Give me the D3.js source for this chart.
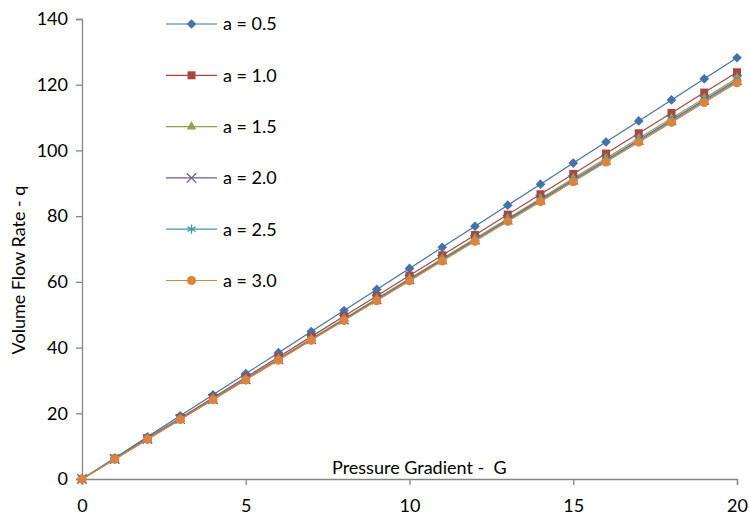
<!DOCTYPE html>
<html>
<head>
<meta charset="utf-8">
<script src="https://cdn.jsdelivr.net/npm/d3@7"></script>
<style>
  body { margin: 0; background: #fff; }
  text { font-family: Lato, "Open Sans", sans-serif; fill: #000; }
</style>
</head>
<body>
<div id="chart"></div>
<script>
const width = 749, height = 515;
const margin = { top: 19, right: 12, bottom: 36, left: 82 };

const gradients = d3.range(0, 21);
const seriesNames = ["a = 0.5", "a = 1.0", "a = 1.5", "a = 2.0", "a = 2.5", "a = 3.0"];
const seriesColors = ["#4572A7", "#AA4643", "#89A54E", "#71588F", "#4198AF", "#DB843D"];
const seriesSymbols = ["diamond", "square", "triangle", "cross", "star", "circle"];

const qA05 = [0, 6.41, 12.82, 19.23, 25.64, 32.05, 38.46, 44.87, 51.28, 57.69, 64.1, 70.51, 76.92, 83.33, 89.74, 96.15, 102.56, 108.97, 115.38, 121.79, 128.2];
const qA10 = [0, 6.19, 12.38, 18.57, 24.76, 30.95, 37.14, 43.33, 49.52, 55.71, 61.9, 68.09, 74.28, 80.47, 86.66, 92.85, 99.04, 105.23, 111.42, 117.61, 123.8];
const qA15 = [0, 6.1, 12.2, 18.3, 24.4, 30.5, 36.6, 42.7, 48.8, 54.9, 61.0, 67.1, 73.2, 79.3, 85.4, 91.5, 97.6, 103.7, 109.8, 115.9, 122.0];
const qA20 = [0, 6.07, 12.14, 18.21, 24.28, 30.35, 36.42, 42.49, 48.56, 54.63, 60.7, 66.77, 72.84, 78.91, 84.98, 91.05, 97.12, 103.19, 109.26, 115.33, 121.4];
const qA25 = [0, 6.05, 12.1, 18.15, 24.2, 30.25, 36.3, 42.35, 48.4, 54.45, 60.5, 66.55, 72.6, 78.65, 84.7, 90.75, 96.8, 102.85, 108.9, 114.95, 121.0];
const qA30 = [0, 6.03, 12.06, 18.09, 24.12, 30.15, 36.18, 42.21, 48.24, 54.27, 60.3, 66.33, 72.36, 78.39, 84.42, 90.45, 96.48, 102.51, 108.54, 114.57, 120.6];
const allSeries = [qA05, qA10, qA15, qA20, qA25, qA30];

const xTicks = [0, 5, 10, 15, 20];
const yTicks = [0, 20, 40, 60, 80, 100, 120, 140];

const xScale = d3.scaleLinear().domain([0, 20]).range([0, 655]);
const yScale = d3.scaleLinear().domain([0, 140]).range([460, 0]);

const svg = d3.select("#chart")
  .append("svg")
  .attr("width", width)
  .attr("height", height);

const innerChart = svg.append("g")
  .attr("transform", `translate(${margin.left}, ${margin.top})`);

// Axes
const axisColor = "#868686";
const fontSize = "18px";

const yAxis = innerChart.append("g")
  .call(d3.axisLeft(yScale).tickValues(yTicks).tickSize(6).tickPadding(8));
yAxis.select(".domain").attr("stroke", axisColor).attr("stroke-width", 1.3);
yAxis.selectAll(".tick line").attr("stroke", axisColor).attr("stroke-width", 1.3);
yAxis.selectAll(".tick text").style("font-size", fontSize).attr("fill", "#000");

const xAxis = innerChart.append("g")
  .attr("transform", `translate(0, ${yScale(0)})`)
  .call(d3.axisBottom(xScale).tickValues(xTicks).tickSize(6).tickPadding(14));
xAxis.select(".domain").attr("stroke", axisColor).attr("stroke-width", 1.3);
xAxis.selectAll(".tick line").attr("stroke", axisColor).attr("stroke-width", 1.3);
xAxis.selectAll(".tick text").style("font-size", fontSize).attr("fill", "#000");

// Symbols
const symbolFor = name => {
  if (name === "diamond") return d3.symbol().type(d3.symbolDiamond2).size(60);
  if (name === "square") return d3.symbol().type(d3.symbolSquare).size(64);
  if (name === "triangle") return d3.symbol().type(d3.symbolTriangle).size(40);
  if (name === "cross") return d3.symbol().type(d3.symbolTimes).size(60);
  if (name === "star") return d3.symbol().type(d3.symbolAsterisk).size(60);
  return d3.symbol().type(d3.symbolCircle).size(64);
};
const isStroked = name => name === "cross" || name === "star";

const line = d3.line()
  .x((d, i) => xScale(gradients[i]))
  .y(d => yScale(d));

allSeries.forEach((values, s) => {
  const g = innerChart.append("g");
  g.append("path")
    .attr("d", line(values))
    .attr("fill", "none")
    .attr("stroke", seriesColors[s])
    .attr("stroke-width", 1.2);
  g.selectAll("path.marker")
    .data(values)
    .join("path")
    .attr("class", "marker")
    .attr("transform", (d, i) => `translate(${xScale(gradients[i])}, ${yScale(d)})`)
    .attr("d", symbolFor(seriesSymbols[s])())
    .attr("fill", isStroked(seriesSymbols[s]) ? "none" : seriesColors[s])
    .attr("stroke", isStroked(seriesSymbols[s]) ? seriesColors[s] : "none")
    .attr("stroke-width", 1.3);
});

// Axis titles
innerChart.append("text")
  .attr("x", 250)
  .attr("y", yScale(0) - 5)
  .style("font-size", fontSize)
  .style("white-space", "pre")
  .text("Pressure Gradient -  G");

svg.append("text")
  .attr("transform", "translate(25, 270) rotate(-90)")
  .attr("text-anchor", "middle")
  .style("font-size", fontSize)
  .text("Volume Flow Rate - q");

// Legend
const legend = svg.append("g")
  .attr("transform", "translate(166, 24)");

seriesNames.forEach((name, s) => {
  const row = legend.append("g")
    .attr("transform", `translate(0, ${s * 51.3})`);
  row.append("line")
    .attr("x1", 0).attr("x2", 51)
    .attr("stroke", seriesColors[s])
    .attr("stroke-width", 1.2);
  row.append("path")
    .attr("transform", "translate(25.5, 0)")
    .attr("d", symbolFor(seriesSymbols[s])())
    .attr("fill", isStroked(seriesSymbols[s]) ? "none" : seriesColors[s])
    .attr("stroke", isStroked(seriesSymbols[s]) ? seriesColors[s] : "none")
    .attr("stroke-width", 1.3);
  row.append("text")
    .attr("x", 57)
    .attr("dy", "0.35em")
    .style("font-size", fontSize)
    .text(name);
});
</script>
</body>
</html>
